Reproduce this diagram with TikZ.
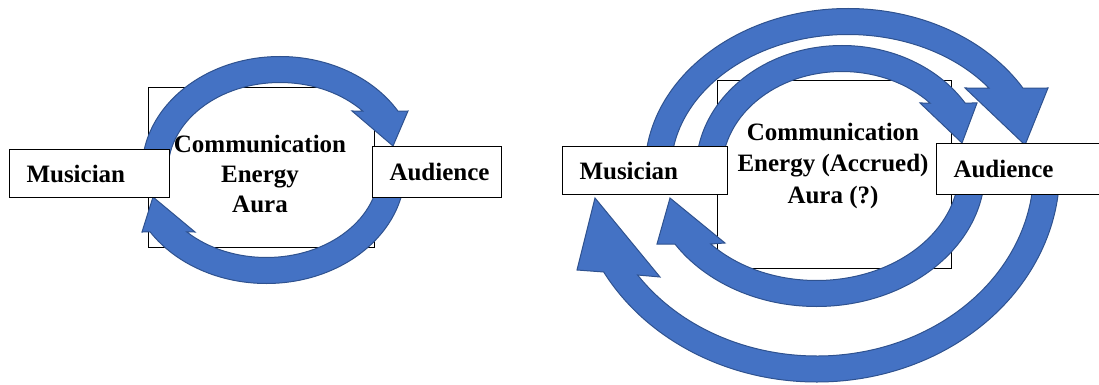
\documentclass[tikz,border=0pt]{standalone}
\usepackage{fontspec}
\setmainfont{Liberation Serif}
\usetikzlibrary{calc}
\definecolor{arrowblue}{RGB}{68,114,196}
\definecolor{arrowedge}{RGB}{47,82,143}
\tikzset{
  partybox/.style={draw, fill=white, line width=1pt, minimum height=48pt,
    inner xsep=17pt, inner ysep=0pt, align=left, anchor=north west},
  auraframe/.style={draw, line width=0.9pt},
  flowarrow/.style={fill=arrowblue, draw=arrowedge, line width=1pt},
  auratext/.style={align=center, inner sep=0pt}
}
% half width of the arrow band
\newcommand{\bandw}{13}
% centre, rx, ry, start angle, outer end, inner end, outer barb, tip, inner barb
\newcommand{\loopArrow}[9]{%
  \pgfmathsetmacro{\rxo}{#2+\bandw}\pgfmathsetmacro{\ryo}{#3+\bandw}%
  \pgfmathsetmacro{\rxi}{#2-\bandw}\pgfmathsetmacro{\ryi}{#3-\bandw}%
  \filldraw[flowarrow] ($(#1)+(#4:{\rxo} and {\ryo})$)
    arc[start angle=#4, end angle=#5, x radius=\rxo, y radius=\ryo]
    -- #7 -- #8 -- #9 -- ($(#1)+(#6:{\rxi} and {\ryi})$)
    arc[start angle=#6, end angle=#4, x radius=\rxi, y radius=\ryi] -- cycle;}

\begin{document}
\begin{tikzpicture}[x=1pt, y=-1pt, font=\bfseries\fontsize{25}{30}\selectfont]
\useasboundingbox (0,0) rectangle (1099,385);

% left: one loop
\draw[auraframe] (148,87) rectangle (374,247);
\coordinate (cLT) at (280,170);
\coordinate (cLB) at (266.4,170);
\loopArrow{cLT}{125}{100.5}{180}{328.7}{317.6}{(408,111)}{(393,146)}{(352,111)}
\loopArrow{cLB}{125.7}{100.5}{0}{146.9}{134.9}{(142,232)}{(153,197)}{(195,232)}
\node[partybox, text width=126pt] (musL) at (9,149) {Musician};
\node[partybox, text width=95pt, minimum height=51pt] (audL) at (372,146) {Audience};
\node[auratext] (auraL) at (260,173.5) {Communication\\Energy\\Aura};

% right: two loops
\draw[auraframe] (717,80) rectangle (951,268);
\coordinate (cRIT) at (842,170);
\coordinate (cROT) at (848,170);
\coordinate (cRIB) at (816.5,170);
\coordinate (cROB) at (816.7,170);
\loopArrow{cROT}{190}{148.5}{180}{329.49}{322.76}{(1048,88)}{(1025,145)}{(965,88)}
\loopArrow{cRIT}{133}{111.5}{180}{327.44}{317.14}{(977,103)}{(962,143)}{(920,103)}
\loopArrow{cROB}{230}{199}{0}{151.24}{145.63}{(577,270)}{(595,198)}{(660,277)}
\loopArrow{cRIB}{155.5}{123.5}{0}{147.17}{137.96}{(657,244)}{(670,198)}{(725,243)}
\node[partybox, text width=131pt] (musR) at (562,146) {Musician};
\node[partybox, text width=141pt, minimum height=51pt] (audR) at (936,143) {Audience};
\node[auratext, font=\bfseries\fontsize{25}{31.5}\selectfont] (auraR) at (833,165.5)
  {Communication\\Energy (Accrued)\\Aura (?)};
\end{tikzpicture}
\end{document}
